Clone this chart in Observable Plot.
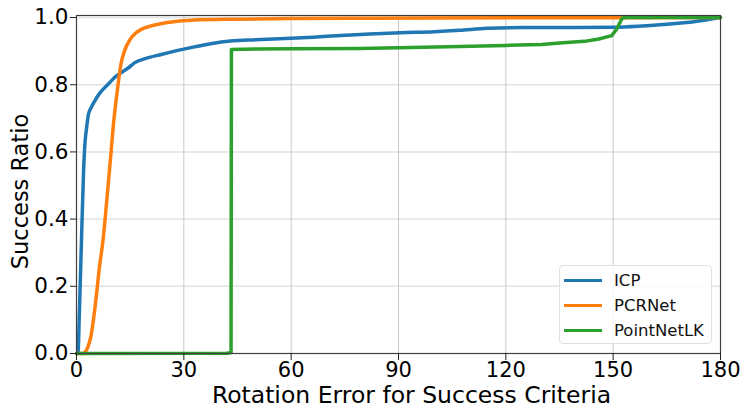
<!DOCTYPE html>
<html>
<head>
<meta charset="utf-8">
<script src="https://cdn.jsdelivr.net/npm/d3@7"></script>
<script src="https://cdn.jsdelivr.net/npm/@observablehq/plot@0.6"></script>
<style>
  html, body { margin: 0; padding: 0; background: #fff; }
  #wrap { position: relative; width: 747px; height: 412px; font-family: "DejaVu Sans", sans-serif; }
  #legend { position: absolute; left: 559px; top: 265px; width: 153px; height: 79px;
    border: 1px solid #e0e0e0; border-radius: 4px; background: rgba(255,255,255,0.85);
    box-sizing: border-box; padding: 2px 0 0 4px; }
  .row { display: flex; align-items: center; height: 25px; font-size: 16.5px; color: #111; }
  .sw { width: 38px; height: 3.5px; margin-right: 12px; }
</style>
</head>
<body>
<div id="wrap"><div id="chart"></div><div id="legend"></div></div>
<script>
const seriesNames = ["ICP", "PCRNet", "PointNetLK"];
const seriesColors = ["#1f77b4", "#ff7f0e", "#2ca02c"];

const icpX = [0, 0.4, 0.8, 1.4, 2.0, 2.4, 2.8, 3.3, 4, 5, 6.5, 8.7, 10.5, 12.5, 14.5, 16.2, 19, 23.7, 30, 37.5, 43, 50, 60, 70, 82, 90.5, 100, 107, 114.8, 125, 140, 150, 157, 164, 173, 180];
const icpY = [0, 0, 0.12, 0.34, 0.55, 0.63, 0.67, 0.71, 0.73, 0.75, 0.775, 0.80, 0.82, 0.836, 0.85, 0.865, 0.877, 0.89, 0.906, 0.922, 0.93, 0.934, 0.938, 0.944, 0.951, 0.955, 0.958, 0.962, 0.968, 0.97, 0.97, 0.971, 0.974, 0.979, 0.988, 1.0];

const pcrX = [0, 1.8, 2.5, 3.2, 4, 4.6, 5.5, 6.4, 7.4, 8.5, 9.5, 10.4, 11.5, 12.4, 13.4, 15, 16.7, 18.5, 20.9, 25.5, 32, 45, 60, 82, 120, 180];
const pcrY = [0, 0, 0.006, 0.02, 0.05, 0.09, 0.167, 0.256, 0.336, 0.46, 0.58, 0.69, 0.79, 0.86, 0.9, 0.935, 0.955, 0.967, 0.975, 0.985, 0.992, 0.995, 0.997, 0.998, 0.999, 1.0];

const lkX = [0, 42, 43.2, 43.3, 50, 60, 79, 90, 107, 120, 130, 135, 142, 146, 149.6, 151, 152.5, 153.5, 180];
const lkY = [0, 0.001, 0.003, 0.905, 0.906, 0.907, 0.908, 0.91, 0.914, 0.917, 0.92, 0.924, 0.929, 0.936, 0.946, 0.966, 0.998, 1.0, 1.0];

const xTicks = [0, 30, 60, 90, 120, 150, 180];
const yTicks = [0, 0.2, 0.4, 0.6, 0.8, 1.0];
const xLabel = "Rotation Error for Success Criteria";
const yLabel = "Success Ratio";

const toRows = (xs, ys) => xs.map((x, i) => ({x, y: ys[i]}));
const icp = toRows(icpX, icpY);
const pcr = toRows(pcrX, pcrY);
const lk = toRows(lkX, lkY);

const chart = Plot.plot({
  width: 747,
  height: 412,
  marginLeft: 76,
  marginRight: 27,
  marginTop: 15,
  marginBottom: 59,
  style: {fontFamily: "DejaVu Sans, sans-serif", fontSize: "21.5px", color: "#000", background: "#fff"},
  x: {domain: [0, 180]},
  y: {domain: [0, 1.006]},
  marks: [
    Plot.ruleY(yTicks.slice(1), {stroke: "#e2e2e2", strokeWidth: 1.5}),
    Plot.ruleX(xTicks.slice(1, -1), {stroke: "#c8c8c8", strokeWidth: 1}),
    Plot.line(icp, {x: "x", y: "y", stroke: seriesColors[0], strokeWidth: 3.5, curve: "monotone-x"}),
    Plot.line(pcr, {x: "x", y: "y", stroke: seriesColors[1], strokeWidth: 3.5, curve: "monotone-x"}),
    Plot.line(lk, {x: "x", y: "y", stroke: seriesColors[2], strokeWidth: 3.5, curve: "linear"}),
    Plot.frame({stroke: "#404040", strokeWidth: 1.2}),
    Plot.axisX({ticks: xTicks, tickSize: 7, tickPadding: 2, fontSize: 21, stroke: "#222", label: null}),
    Plot.axisY({ticks: yTicks, tickFormat: d3.format(".1f"), tickSize: 6, tickPadding: 2, fontSize: 21.5, stroke: "#222", label: null}),
    Plot.text([xLabel], {frameAnchor: "bottom", lineAnchor: "middle", textAnchor: "middle", dx: 13, dy: 42, fontSize: 23.5, fill: "#000"}),
    Plot.text([yLabel], {frameAnchor: "left", lineAnchor: "middle", textAnchor: "middle", dx: -56, dy: 7, rotate: -90, fontSize: 22.5, fill: "#000"})
  ]
});
document.getElementById("chart").appendChild(chart);

const legend = document.getElementById("legend");
seriesNames.forEach((n, i) => {
  const row = document.createElement("div");
  row.className = "row";
  row.innerHTML = `<div class="sw" style="background:${seriesColors[i]}"></div><span>${n}</span>`;
  legend.appendChild(row);
});
</script>
</body>
</html>
